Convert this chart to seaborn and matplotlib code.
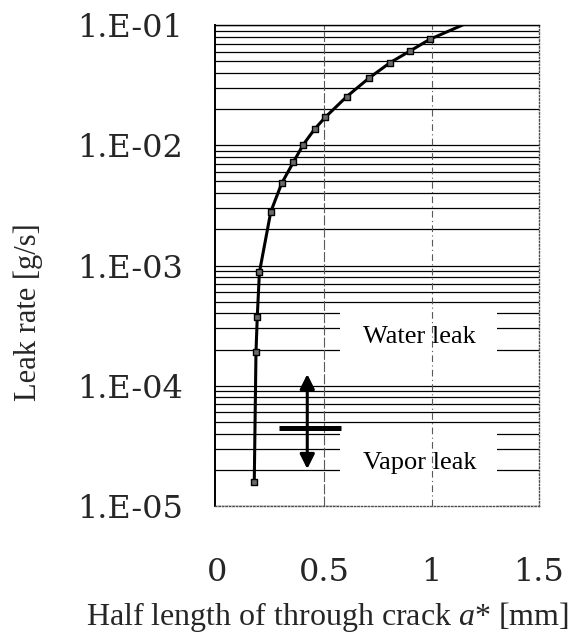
import matplotlib
matplotlib.use("Agg")
import matplotlib.pyplot as plt
import seaborn as sns
import numpy as np
from matplotlib.patches import Rectangle
from matplotlib.ticker import LogLocator, NullFormatter

# Computed leak rate versus half length of the through-wall crack
crack_half_length = [0.173, 0.181, 0.187, 0.197, 0.250, 0.301, 0.355, 0.401,
                     0.454, 0.504, 0.603, 0.706, 0.805, 0.901, 0.991]
leak_rate = [1.59e-5, 1.90e-4, 3.75e-4, 8.77e-4, 2.80e-3, 4.83e-3, 7.22e-3, 1.01e-2,
             1.36e-2, 1.71e-2, 2.53e-2, 3.60e-2, 4.85e-2, 6.11e-2, 7.60e-2]
# continuation of the curve beyond the last computed point
curve_tail_x = [1.144]
curve_tail_y = [0.1]

x_ticks = [0, 0.5, 1, 1.5]
x_tick_labels = ["0", "0.5", "1", "1.5"]
y_ticks = [1e-5, 1e-4, 1e-3, 1e-2, 1e-1]
y_tick_labels = ["1.E-05", "1.E-04", "1.E-03", "1.E-02", "1.E-01"]

# water / vapor leak boundary and its indicator arrow
boundary_rate = 4.45e-5
boundary_x = [0.29, 0.578]
arrow_x = 0.42
arrow_span = [2.03e-5, 1.25e-4]

region_labels = ["Water leak", "Vapor leak"]
region_label_y = [2.54e-4, 2.28e-5]

sns.set_theme(style="white")
plt.rcParams["font.family"] = ["Liberation Serif", "DejaVu Serif"]
plt.rcParams["mathtext.fontset"] = "custom"
plt.rcParams["mathtext.rm"] = "Liberation Serif"
plt.rcParams["mathtext.it"] = "Liberation Serif:italic"

fig = plt.figure(figsize=(5.87, 6.36), dpi=100)
ax = fig.add_axes([215 / 587, 1 - 506 / 636, 324 / 587, 481 / 636])

ax.set_yscale("log")
ax.set_xlim(-0.01, 1.5)
ax.set_ylim(1e-5, 1e-1)

# horizontal grid at every decade and sub-decade
ax.yaxis.set_minor_locator(LogLocator(base=10, subs=np.arange(2, 10)))
ax.yaxis.set_minor_formatter(NullFormatter())
ax.set_axisbelow(True)
ax.grid(True, axis="y", which="both", color="black", linewidth=0.9)
ax.grid(False, axis="x")

# white label areas that break the grid
label_box_x = (0.572, 1.302)
ax.add_patch(Rectangle((label_box_x[0], 1.07e-4), label_box_x[1] - label_box_x[0],
                       4.35e-4 - 1.07e-4, facecolor="white", edgecolor="none", zorder=1))
ax.add_patch(Rectangle((label_box_x[0], 1e-5), label_box_x[1] - label_box_x[0],
                       4.45e-5 - 1e-5, facecolor="white", edgecolor="none", zorder=1))

# vertical reference lines
ax.axvline(x_ticks[1], color="0.35", linewidth=0.8, linestyle=(0, (9, 2)), zorder=1.5)
ax.axvline(x_ticks[2], color="0.35", linewidth=0.8, linestyle=(0, (6, 3, 1, 3)), zorder=1.5)

# leak-rate curve and computed points
sns.lineplot(x=crack_half_length + curve_tail_x, y=leak_rate + curve_tail_y,
             sort=False, estimator=None, color="black", linewidth=2.2, ax=ax, zorder=3)
sns.scatterplot(x=crack_half_length, y=leak_rate, marker="s", s=20, color="#6a6a6a",
                edgecolor="black", linewidth=1.0, ax=ax, zorder=4)

# boundary between water and vapor leak
ax.plot(boundary_x, [boundary_rate, boundary_rate], color="black", linewidth=3.6,
        solid_capstyle="butt", zorder=3)
ax.annotate("", xy=(arrow_x, arrow_span[1]), xytext=(arrow_x, arrow_span[0]),
            arrowprops=dict(arrowstyle="<|-|>", color="black", lw=2.2,
                            mutation_scale=22, shrinkA=0, shrinkB=0), zorder=4)

for txt, yv in zip(region_labels, region_label_y):
    ax.text(0.944, yv, txt, ha="center", va="center", fontsize=19,
            fontfamily="Liberation Serif", color="black", zorder=5)

ax.set_xticks(x_ticks, x_tick_labels, fontfamily="DejaVu Serif", fontsize=23)
ax.set_yticks(y_ticks, y_tick_labels, fontfamily="DejaVu Serif", fontsize=23)
ax.tick_params(axis="both", which="both", length=0)
ax.tick_params(axis="y", pad=23)
ax.tick_params(axis="x", pad=37)

for side in ax.spines.values():
    side.set_visible(True)
ax.spines["left"].set_color("black")
ax.spines["left"].set_linewidth(1.4)
ax.spines["top"].set_color("black")
ax.spines["top"].set_linewidth(1.0)
for side in ("right", "bottom"):
    ax.spines[side].set_color("0.3")
    ax.spines[side].set_linewidth(1.0)
    ax.spines[side].set_linestyle((0, (1, 1.5)))

fig.text(327 / 587, 1 - 617 / 636, "Half length of through crack $a$* [mm]",
         ha="center", va="center", fontsize=23, fontfamily="Liberation Serif")
fig.text(28 / 587, 1 - 312 / 636, "Leak rate [g/s]", rotation=90,
         ha="center", va="center", fontsize=22, fontfamily="Liberation Serif")

fig.savefig("out.png", dpi=100)
